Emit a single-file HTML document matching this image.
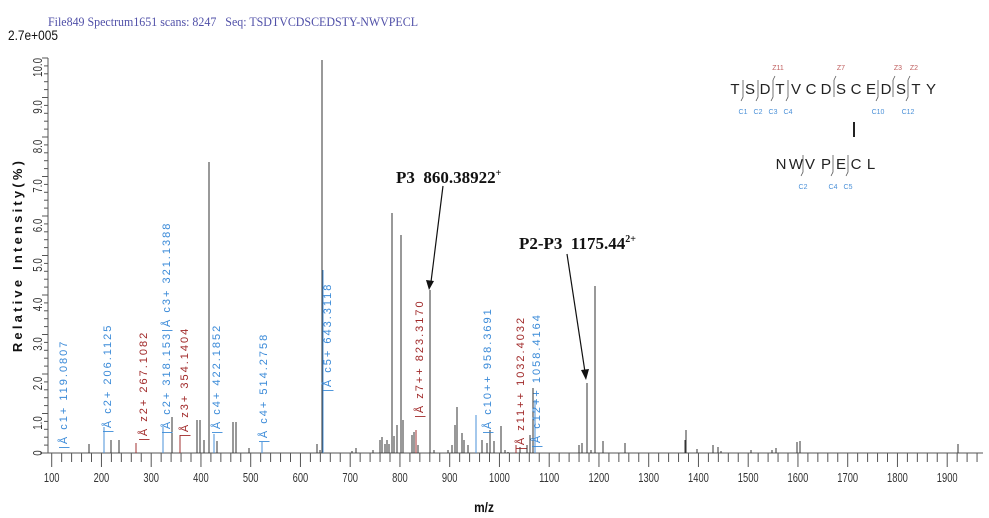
<!DOCTYPE html>
<html><head><meta charset="utf-8"><style>
html,body{margin:0;padding:0;background:#fff;width:989px;height:518px;overflow:hidden}
svg{display:block}
</style></head><body>
<svg id="s" width="989" height="518" xmlns="http://www.w3.org/2000/svg" font-family="Liberation Sans, sans-serif">
<text x="48" y="26" font-family="Liberation Serif, serif" font-size="13" fill="#5050a8" transform="translate(48,26) scale(0.92,1) translate(-48,-26)">File849 Spectrum1651 scans: 8247 &#160;&#160;Seq: TSDTVCDSCEDSTY-NWVPECL</text>
<text x="8" y="40" font-size="14" fill="#111" transform="translate(8,40) scale(0.85,1) translate(-8,-40)">2.7e+005</text>
<line x1="48" y1="58" x2="48" y2="453" stroke="#555" stroke-width="1"/>
<line x1="40" y1="453" x2="983" y2="453" stroke="#555" stroke-width="1"/>
<text transform="translate(22,255) rotate(-90)" text-anchor="middle" font-size="13" font-weight="bold" letter-spacing="3.2" fill="#111">Relative  Intensity(%)</text>
<text x="484" y="512" text-anchor="middle" font-size="14" font-weight="bold" fill="#111" transform="translate(484,512) scale(0.85,1) translate(-484,-512)">m/z</text>
<g id="ticks" stroke="#555" stroke-width="1"></g>
<g id="labs" font-size="13" fill="#333"></g>
<g id="peaks" stroke-width="1"></g>
<g id="ann" font-size="11" letter-spacing="2"></g>
<text x="396" y="183" font-family="Liberation Serif, serif" font-weight="bold" font-size="17" fill="#111">P3 &#160;860.38922<tspan font-size="10" dy="-7">+</tspan></text>
<line x1="443" y1="186" x2="431" y2="282" stroke="#111" stroke-width="1.2"/>
<polygon points="429,290 426,280 434,281" fill="#111"/>
<text x="519" y="249" font-family="Liberation Serif, serif" font-weight="bold" font-size="17" fill="#111">P2-P3 &#160;1175.44<tspan font-size="10" dy="-7">2+</tspan></text>
<line x1="567" y1="254" x2="585" y2="372" stroke="#111" stroke-width="1.2"/>
<polygon points="586,380 581,370 589,369" fill="#111"/>
<g font-size="15" fill="#222" text-anchor="middle">
<text x="735" y="94">T</text><text x="750" y="94">S</text><text x="765" y="94">D</text><text x="780" y="94">T</text><text x="796" y="94">V</text><text x="811" y="94">C</text><text x="826" y="94">D</text><text x="841" y="94">S</text><text x="856" y="94">C</text><text x="871" y="94">E</text><text x="886" y="94">D</text><text x="901" y="94">S</text><text x="916" y="94">T</text><text x="931" y="94">Y</text>
<text x="781" y="169">N</text><text x="796" y="169">W</text><text x="810" y="169">V</text><text x="826" y="169">P</text><text x="841" y="169">E</text><text x="856" y="169">C</text><text x="871" y="169">L</text>
</g>
<line x1="854" y1="122" x2="854" y2="137" stroke="#222" stroke-width="2"/>
<g stroke="#555" stroke-width="0.8" fill="none">
<path d="M743,80 V97 L741,101"/><path d="M758,80 V97 L756,101"/><path d="M773,80 V97 L771,101"/><path d="M788,80 V97 L786,101"/>
<path d="M773,80 L775,76"/><path d="M834,80 V97"/><path d="M834,80 L836,76"/>
<path d="M878,80 V97 L876,101"/><path d="M893,80 V97"/><path d="M893,80 L895,76"/><path d="M908,80 V97 L906,101"/><path d="M908,80 L910,76"/>
<path d="M803,155 V172 L801,176"/><path d="M833,155 V172 L831,176"/><path d="M848,155 V172 L846,176"/>
</g>
<g font-size="7" fill="#c06060" text-anchor="middle">
<text x="778" y="70">Z11</text><text x="841" y="70">Z7</text><text x="898" y="70">Z3</text><text x="914" y="70">Z2</text>
</g>
<g font-size="7" fill="#4a90d8" text-anchor="middle">
<text x="743" y="114">C1</text><text x="758" y="114">C2</text><text x="773" y="114">C3</text><text x="788" y="114">C4</text><text x="878" y="114">C10</text><text x="908" y="114">C12</text>
<text x="803" y="189">C2</text><text x="833" y="189">C4</text><text x="848" y="189">C5</text>
</g>
</svg>
<script>
var NS="http://www.w3.org/2000/svg";
function el(p,t,a,txt){var e=document.createElementNS(NS,t);for(var k in a)e.setAttribute(k,a[k]);if(txt!=null)e.textContent=txt;document.getElementById(p).appendChild(e);return e;}
function X(mz){return 51.7+(mz-100)*0.4975;}
for(var m=100;m<=1960;m+=20){var x=X(m);var big=(m%100==0);el("ticks","line",{x1:x,y1:453,x2:x,y2:big?467:462});
 if(big&&m<=1900){el("labs","text",{x:x,y:482,"text-anchor":"middle",transform:"translate("+x+",482) scale(0.72,1) translate("+(-x)+",-482)"},String(m));}}
for(var k=0;k<=50;k++){var y=453-k*7.9;el("ticks","line",{x1:k%5==0?42:44,y1:y,x2:48,y2:y});}
var yl=["0","1.0","2.0","3.0","4.0","5.0","6.0","7.0","8.0","9.0","10.0"];
for(var k=0;k<=10;k++){var cy=k==0?453:423-(k-1)*39.5;el("labs","text",{transform:"translate(42,"+cy+") rotate(-90) scale(0.75,1)","text-anchor":"middle","font-size":"13"},yl[k]);}
var P=[[89,444],[104,427,"#4a90d8"],[111,440],[119,440],[136,443,"#a03030"],[163,427,"#4a90d8"],[172,417],[180,435,"#a03030"],[197,420],[200,420],[204,440],[209,162],[214,434,"#4a90d8"],[217,441],[233,422],[236,422],[249,448],
[262,442,"#4a90d8"],[317,444],[320,450],[322,60],[323,270,"#4a90d8"],[352,451],[356,448],[373,450],[380,440],[382,437],[385,444],[387,440],[389,444],[392,213],[394,436],[397,425],[401,235],[403,420],[412,435],[414,432],[416,430,"#a03030"],[418,445],[430,290],[434,450],[448,450],[452,445],[455,425],[457,407],[462,433],[464,440],[468,445],[476,415,"#4a90d8"],[482,440],[487,443],[490,430],[494,441],[501,426],[505,450],[508,452],[516,445,"#a03030"],[520,447],[527,445],[530,435],[533,388],[535,400,"#4a90d8"],
[579,445],[582,443],[587,383],[591,450],[595,286],[603,441],[625,443],[685,440],[686,430],[697,449],[713,445],[718,447],[721,451],[751,450],[772,450],[776,448],[797,442],[800,441],[958,444]];
P.forEach(function(p){el("peaks","line",{x1:p[0],y1:453,x2:p[0],y2:p[1],stroke:p[2]||"#333"});});
var B="#3a8ad8",R="#a02828";
var L=[[63,449,"|Å c1+ 119.0807",B],[107,433,"|Å c2+ 206.1125",B],[143,441,"|Å z2+ 267.1082",R],[166,434,"|Å c2+ 318.153|Å c3+ 321.1388",B],[184,437,"|Å z3+ 354.1404",R],[216,434,"|Å c4+ 422.1852",B],[263,443,"|Å c4+ 514.2758",B],[327,392,"|Å c5+ 643.3118",B],[419,418,"|Å z7++ 823.3170",R],[487,434,"|Å c10++ 958.3691",B],[520,450,"|Å z11++ 1032.4032",R],[536,448,"|Å c12++ 1058.4164",B]];
L.forEach(function(l){el("ann","text",{transform:"translate("+(l[0]+4)+","+l[1]+") rotate(-90)",fill:l[3]},l[2]);});
</script>
</body></html>
